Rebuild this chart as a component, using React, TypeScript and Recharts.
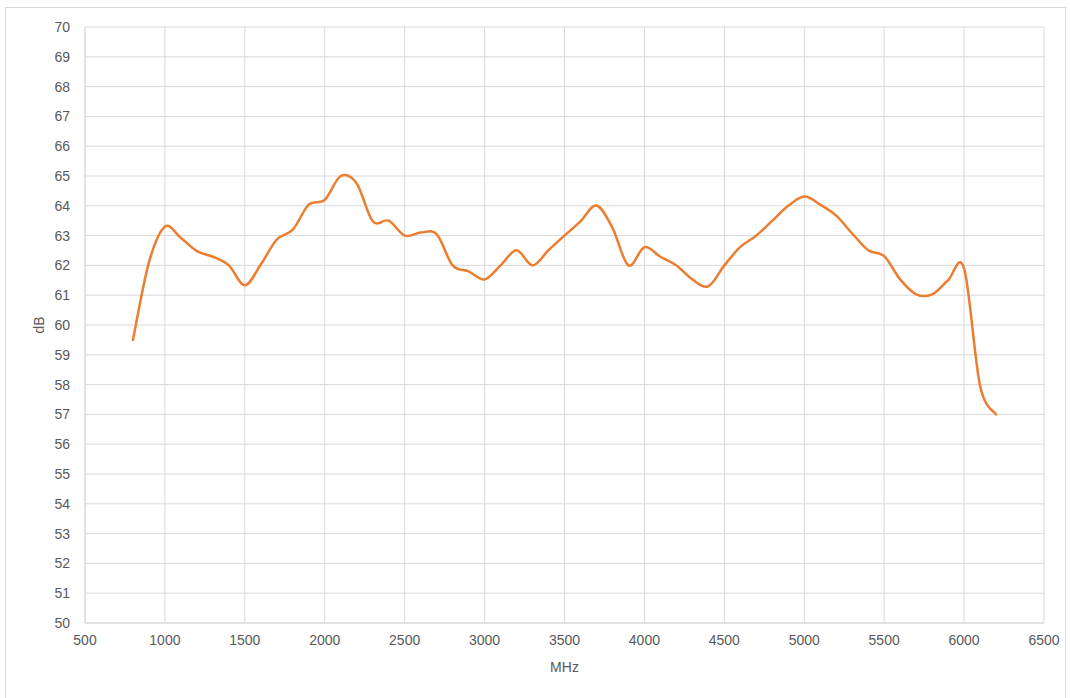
import React from 'react';
import { LineChart, Line, XAxis, YAxis, CartesianGrid } from 'recharts';

const frequencies = [
  800, 900, 1000, 1100, 1200, 1300, 1400, 1500, 1600, 1700, 1800, 1900, 2000,
  2100, 2200, 2300, 2400, 2500, 2600, 2700, 2800, 2900, 3000, 3100, 3200, 3300,
  3400, 3500, 3600, 3700, 3800, 3900, 4000, 4100, 4200, 4300, 4400, 4500, 4600,
  4700, 4800, 4900, 5000, 5100, 5200, 5300, 5400, 5500, 5600, 5700, 5800, 5900,
  6000, 6100, 6200,
];

const levels = [
  59.5, 62.1, 63.3, 62.92, 62.48, 62.29, 62.0, 61.33, 62.03, 62.87, 63.2, 64.04, 64.2,
  65.0, 64.75, 63.48, 63.5, 63.0, 63.1, 63.05, 62.0, 61.8, 61.53, 62.0, 62.51, 62.0,
  62.51, 63.0, 63.48, 64.01, 63.26, 62.0, 62.61, 62.29, 62.0, 61.53, 61.3, 62.0, 62.62,
  63.0, 63.5, 64.0, 64.31, 64.04, 63.67, 63.07, 62.51, 62.31, 61.53, 61.03, 61.03, 61.5,
  61.9, 57.96, 57.0,
];

const xTicks = [500, 1000, 1500, 2000, 2500, 3000, 3500, 4000, 4500, 5000, 5500, 6000, 6500];
const yTicks = [50, 51, 52, 53, 54, 55, 56, 57, 58, 59, 60, 61, 62, 63, 64, 65, 66, 67, 68, 69, 70];

const data = frequencies.map((f, i) => ({ f, db: levels[i] }));

// Excel-style smoothed line (Catmull-Rom through the points)
function smoothCurve(context: any) {
  let xs: number[] = [];
  let ys: number[] = [];
  return {
    areaStart() {},
    areaEnd() {},
    lineStart() {
      xs = [];
      ys = [];
    },
    point(x: number, y: number) {
      xs.push(+x);
      ys.push(+y);
    },
    lineEnd() {
      const n = xs.length;
      if (!n) return;
      context.moveTo(xs[0], ys[0]);
      for (let i = 0; i < n - 1; i++) {
        const a = i > 0 ? i - 1 : i;
        const d = i + 2 < n ? i + 2 : i + 1;
        context.bezierCurveTo(
          xs[i] + (xs[i + 1] - xs[a]) / 6,
          ys[i] + (ys[i + 1] - ys[a]) / 6,
          xs[i + 1] - (xs[d] - xs[i]) / 6,
          ys[i + 1] - (ys[d] - ys[i]) / 6,
          xs[i + 1],
          ys[i + 1]
        );
      }
    },
  };
}

const font = 'Liberation Sans, Arial, sans-serif';
const tickStyle = { fill: '#595959', fontSize: 14, fontFamily: font };

export default function App() {
  return (
    <div style={{ position: 'absolute', left: 0, top: 0, width: 1070, height: 698, background: '#fff', overflow: 'hidden' }}>
      <div
        style={{
          position: 'absolute',
          left: 5,
          top: 7,
          width: 1059,
          height: 720,
          border: '1px solid #d9d9d9',
        }}
      />
      <LineChart
        width={1070}
        height={698}
        data={data}
        margin={{ top: 27, right: 26, bottom: 45, left: 0 }}
        style={{ position: 'absolute', left: 0, top: 0 }}
      >
        <CartesianGrid stroke="#d9d9d9" strokeWidth={1} />
        <XAxis
          dataKey="f"
          type="number"
          domain={[500, 6500]}
          ticks={xTicks}
          interval={0}
          tickLine={false}
          tickSize={0}
          tickMargin={12}
          axisLine={{ stroke: '#d9d9d9' }}
          tick={tickStyle}
          height={30}
          label={{ value: 'MHz', position: 'bottom', offset: 9, fill: '#595959', fontSize: 14, fontFamily: font }}
        />
        <YAxis
          type="number"
          domain={[50, 70]}
          ticks={yTicks}
          interval={0}
          tickLine={false}
          tickSize={0}
          tickMargin={15}
          axisLine={{ stroke: '#d9d9d9' }}
          tick={tickStyle}
          width={85}
          label={{ value: 'dB', angle: -90, position: 'center', dx: -3, fill: '#595959', fontSize: 14, fontFamily: font }}
        />
        <Line
          dataKey="db"
          type={smoothCurve as any}
          stroke="#ED7D31"
          strokeWidth={2.5}
          dot={false}
          activeDot={false}
          strokeLinecap="round"
          isAnimationActive={false}
        />
      </LineChart>
    </div>
  );
}
